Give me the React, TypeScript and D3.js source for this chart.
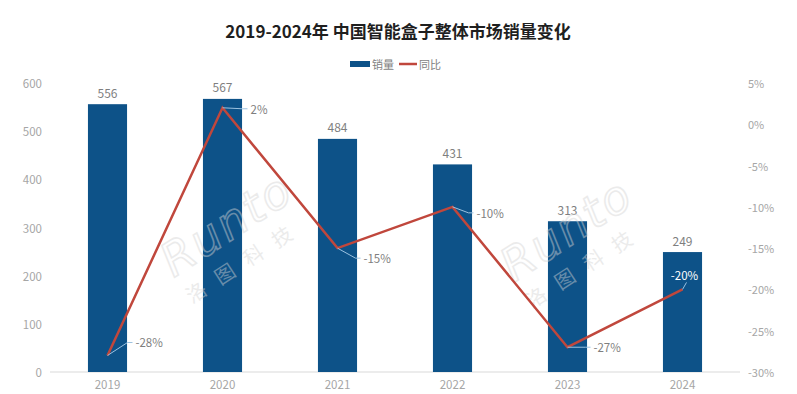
import * as React from "react";
import * as d3 from "d3";

const YEARS = ["2019", "2020", "2021", "2022", "2023", "2024"];
const SALES = [556, 567, 484, 431, 313, 249];
const YOY = [-28, 2, -15, -10, -27, -20];
const LEFT_TICKS = [0, 100, 200, 300, 400, 500, 600];
const RIGHT_TICKS = [5, 0, -5, -10, -15, -20, -25, -30];

// label placement for the yoy labels (offset from point, in px)
const YOY_LABEL_OFFSETS: Array<[number, number]> = [
  [28, -13],
  [28, 1],
  [26, 10],
  [24, 6],
  [26, 0],
  [2, -14],
];

const BAR_COLOR = "#0d5288";
const LINE_COLOR = "#c0473c";
const LEADER_COLOR = "#9cc2e0";
const TICK_COLOR = "#a6a6a6";
const LABEL_COLOR = "#7f7f7f";
const FONT = "'Noto Sans CJK SC', 'Noto Sans', sans-serif";

function Watermark({ x, y }: { x: number; y: number }) {
  return (
    <g transform={`translate(${x},${y}) rotate(-33)`} opacity={0.45} pointerEvents="none">
      <text
        x={0}
        y={0}
        fontFamily="'DejaVu Sans', sans-serif"
        fontStyle="italic"
        fontSize={46}
        fill="none"
        stroke="#d4d4d4"
        strokeWidth={1.6}
        letterSpacing={2}
        textAnchor="middle"
      >
        Runto
      </text>
      <text
        x={-4}
        y={32}
        fontFamily={FONT}
        fontSize={20}
        fill="#d4d4d4"
        letterSpacing={14}
        textAnchor="middle"
      >
        洛图科技
      </text>
    </g>
  );
}

export default function App() {
  const width = 797;
  const height = 394;
  const plot = { left: 50, right: 740, top: 83, bottom: 372 };

  const x = d3.scaleBand<string>().domain(YEARS).range([plot.left, plot.right]).paddingInner(0.66).paddingOuter(0.33);
  const yLeft = d3.scaleLinear().domain([0, 600]).range([plot.bottom, plot.top]);
  const yRight = d3.scaleLinear().domain([-30, 5]).range([plot.bottom, plot.top]);

  const cx = (d: string) => (x(d) ?? 0) + x.bandwidth() / 2;

  const line = d3
    .line<number>()
    .x((_, i) => cx(YEARS[i]))
    .y((v) => yRight(v));

  return (
    <svg
      width={width}
      height={height}
      style={{ position: "absolute", left: 0, top: 0, background: "#fff" }}
      fontFamily={FONT}
    >
      <rect width={width} height={height} fill="#fff" />
      <text x={398} y={38} textAnchor="middle" fontSize={17} fontWeight="bold" fill="#1f1f1f">
        2019-2024年 中国智能盒子整体市场销量变化
      </text>

      {/* legend */}
      <g transform="translate(350,64)" fontSize={11} fill={LABEL_COLOR}>
        <rect x={0} y={-3} width={20} height={6} fill={BAR_COLOR} />
        <text x={22} y={0} dominantBaseline="central">销量</text>
        <line x1={49} x2={67} y1={0} y2={0} stroke={LINE_COLOR} strokeWidth={2.5} />
        <text x={69} y={0} dominantBaseline="central">同比</text>
      </g>

      {/* left axis */}
      {LEFT_TICKS.map((t) => (
        <text key={t} x={42} y={yLeft(t)} textAnchor="end" dominantBaseline="central" fontSize={11.5} fill={TICK_COLOR}>
          {t}
        </text>
      ))}

      {/* right axis */}
      {RIGHT_TICKS.map((t) => (
        <text key={t} x={748} y={yRight(t)} textAnchor="start" dominantBaseline="central" fontSize={11} fill={TICK_COLOR}>
          {`${t}%`}
        </text>
      ))}

      <line x1={plot.left} x2={plot.right} y1={plot.bottom} y2={plot.bottom} stroke="#d9d9d9" />

      {YEARS.map((yr) => (
        <text key={yr} x={cx(yr)} y={plot.bottom + 12} textAnchor="middle" dominantBaseline="central" fontSize={11.5} fill={TICK_COLOR}>
          {yr}
        </text>
      ))}

      {/* bars */}
      {SALES.map((v, i) => (
        <g key={YEARS[i]}>
          <rect
            x={x(YEARS[i])}
            y={yLeft(v)}
            width={x.bandwidth()}
            height={yLeft(0) - yLeft(v)}
            fill={BAR_COLOR}
          />
          <text x={cx(YEARS[i])} y={yLeft(v) - 12} textAnchor="middle" dominantBaseline="central" fontSize={12} fill={LABEL_COLOR}>
            {v}
          </text>
        </g>
      ))}

      <Watermark x={235} y={238} />
      <Watermark x={575} y={243} />

      {/* yoy line */}
      <path d={line(YOY) ?? undefined} fill="none" stroke={LINE_COLOR} strokeWidth={2.5} strokeLinejoin="miter" />

      {YOY.map((v, i) => {
        const px = cx(YEARS[i]);
        const py = yRight(v);
        const [dx, dy] = YOY_LABEL_OFFSETS[i];
        const onBar = i === YOY.length - 1;
        const lx = px + dx;
        const ly = py + dy;
        return (
          <g key={`yoy-${YEARS[i]}`}>
            {onBar ? (
              <line x1={px} y1={py} x2={px + 4} y2={py - 7} stroke={LEADER_COLOR} strokeWidth={1} />
            ) : (
              <polyline
                points={`${px},${py} ${lx - 8},${ly} ${lx - 3},${ly}`}
                fill="none"
                stroke={LEADER_COLOR}
                strokeWidth={1}
              />
            )}
            <text
              x={lx}
              y={ly}
              textAnchor={onBar ? "middle" : "start"}
              dominantBaseline="central"
              fontSize={11.5}
              fill={onBar ? "#ffffff" : LABEL_COLOR}
            >
              {`${v}%`}
            </text>
          </g>
        );
      })}
    </svg>
  );
}
